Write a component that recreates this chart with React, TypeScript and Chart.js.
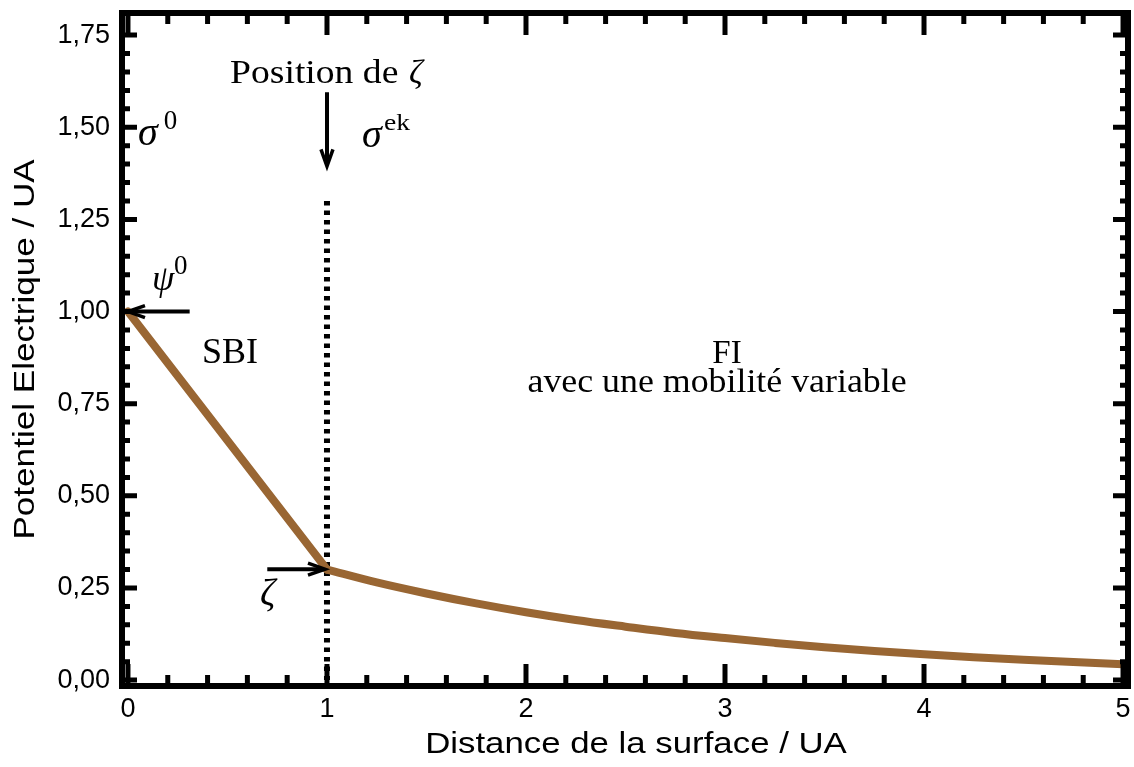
import React, { useEffect, useRef } from 'react';
import { Chart, registerables } from 'chart.js';

Chart.register(...registerables);

// ---- Axis ticks ----
const xTickValues = [0, 1, 2, 3, 4, 5];
const xTickLabels = ['0', '1', '2', '3', '4', '5'];
const yTickValues = [0, 0.25, 0.5, 0.75, 1.0, 1.25, 1.5, 1.75];
const yTickLabels = ['0,00', '0,25', '0,50', '0,75', '1,00', '1,25', '1,50', '1,75'];
const xMinorStep = 0.2;
const yMinorStep = 0.05;

// ---- Series ----
// SBI segment (from the surface to the position of zeta)
const sbiX = [0, 1];
const sbiY = [1.0, 0.3];
// FI decay (diffuse layer)
const fiX = [1, 1.25, 1.5, 1.75, 2, 2.25, 2.5, 2.75, 3, 3.25, 3.5, 3.75, 4, 4.25, 4.5, 4.75, 5];
const fiY = [0.3, 0.265, 0.235, 0.208, 0.184, 0.163, 0.145, 0.128, 0.114, 0.101, 0.089, 0.079, 0.07, 0.062, 0.055, 0.049, 0.043];
// Position of zeta (dotted vertical)
const zetaLineX = [1, 1];
const zetaLineY = [1.3, 0];

// ---- Annotations (data coordinates) ----
const SERIF = "'Liberation Serif', 'Times New Roman', serif";
const SANS = "'Liberation Sans', Arial, Helvetica, sans-serif";

const textNotes = [
  { text: 'Position de', x: 0.513, y: 1.62, size: 33, italic: false, sx: 1.14, align: 'left' },
  { text: 'ζ', x: 1.412, y: 1.62, size: 34, italic: true, sx: 1, align: 'left' },
  { text: 'σ', x: 0.05, y: 1.451, size: 40, italic: true, sx: 1, align: 'left' },
  { text: '0', x: 0.18, y: 1.495, size: 27, italic: false, sx: 1, align: 'left' },
  { text: 'σ', x: 1.176, y: 1.446, size: 40, italic: true, sx: 1, align: 'left' },
  { text: 'ek', x: 1.286, y: 1.492, size: 24, italic: false, sx: 1.15, align: 'left' },
  { text: 'ψ', x: 0.121, y: 1.058, size: 36, italic: true, sx: 1, align: 'left' },
  { text: '0', x: 0.231, y: 1.101, size: 27, italic: false, sx: 1, align: 'left' },
  { text: 'SBI', x: 0.372, y: 0.86, size: 36, italic: false, sx: 1, align: 'left' },
  { text: 'FI', x: 3.01, y: 0.86, size: 33, italic: false, sx: 1, align: 'center' },
  { text: 'avec une mobilité variable', x: 2.96, y: 0.781, size: 33, italic: false, sx: 1.086, align: 'center' },
  { text: 'ζ', x: 0.663, y: 0.203, size: 38, italic: true, sx: 1, align: 'left' },
];

const arrowNotes = [
  { x1: 1, y1: 1.595, x2: 1, y2: 1.394 },
  { x1: 0.31, y1: 1.0, x2: 0.0, y2: 1.0 },
  { x1: 0.7, y1: 0.301, x2: 0.99, y2: 0.301 },
];

const LINE_COLOR = '#996633';

const framePlugin = {
  id: 'framePlugin',
  beforeDraw(chart: any) {
    const patch = (id: string, method: string, tf: (c: CanvasRenderingContext2D) => void) => {
      const s: any = chart.scales[id];
      const key = '__tf_' + method;
      if (s && !s[key]) {
        const orig = s[method].bind(s);
        s[method] = (...args: any[]) => {
          const c = s.ctx;
          c.save();
          tf(c);
          orig(...args);
          c.restore();
        };
        s[key] = true;
      }
    };
    // the reference lettering is drawn wide: stretch the axis titles along their reading direction
    patch('x', 'drawTitle', (c) => {
      c.translate(570, 0);
      c.scale(1.2, 1);
      c.translate(-570, 0);
    });
    patch('y', 'drawTitle', (c) => {
      c.translate(0, 350);
      c.scale(1, 1.21);
      c.translate(0, -350);
    });
  },
  afterDatasetsDraw(chart: any) {
    const ctx = chart.ctx;
    const { left, right, top, bottom } = chart.chartArea;
    const xs = chart.scales.x;
    const ys = chart.scales.y;
    ctx.save();
    ctx.strokeStyle = '#000';
    ctx.fillStyle = '#000';
    // ticks
    ctx.lineWidth = 5;
    ctx.lineCap = 'butt';
    const near = (a: number, b: number) => Math.abs(a - b) < 1e-6;
    const xMaj = xTickValues;
    const yMaj = yTickValues;
    const nX = Math.round((xMaj[xMaj.length - 1] - xMaj[0]) / xMinorStep);
    for (let i = 0; i <= nX; i++) {
      const v = xMaj[0] + i * xMinorStep;
      const isMaj = xMaj.some((m) => near(m, v));
      const len = isMaj ? 22 : 11;
      const px = xs.getPixelForValue(v);
      ctx.beginPath();
      ctx.moveTo(px, bottom);
      ctx.lineTo(px, bottom - len);
      ctx.moveTo(px, top);
      ctx.lineTo(px, top + len);
      ctx.stroke();
    }
    const nY = Math.round((yMaj[yMaj.length - 1] - yMaj[0]) / yMinorStep);
    for (let i = 0; i <= nY; i++) {
      const v = yMaj[0] + i * yMinorStep;
      const isMaj = yMaj.some((m) => near(m, v));
      const len = isMaj ? 15 : 8;
      const py = ys.getPixelForValue(v);
      ctx.beginPath();
      ctx.moveTo(left, py);
      ctx.lineTo(left + len, py);
      ctx.moveTo(right, py);
      ctx.lineTo(right - len, py);
      ctx.stroke();
    }
    // frame
    ctx.lineWidth = 6;
    ctx.strokeRect(left, top, right - left, bottom - top);

    // arrows
    for (const a of arrowNotes) {
      const x1 = xs.getPixelForValue(a.x1);
      const y1 = ys.getPixelForValue(a.y1);
      const x2 = xs.getPixelForValue(a.x2);
      const y2 = ys.getPixelForValue(a.y2);
      const ang = Math.atan2(y2 - y1, x2 - x1);
      ctx.lineWidth = 4;
      ctx.beginPath();
      ctx.moveTo(x1, y1);
      ctx.lineTo(x2 - Math.cos(ang) * 2, y2 - Math.sin(ang) * 2);
      ctx.stroke();
      const hl = 17;
      const hw = 6;
      const bx = x2 - Math.cos(ang) * hl;
      const by = y2 - Math.sin(ang) * hl;
      const nx = -Math.sin(ang);
      const ny = Math.cos(ang);
      ctx.lineWidth = 3.5;
      ctx.lineJoin = 'miter';
      ctx.beginPath();
      ctx.moveTo(bx + nx * hw, by + ny * hw);
      ctx.lineTo(x2, y2);
      ctx.lineTo(bx - nx * hw, by - ny * hw);
      ctx.stroke();
    }

    // texts
    for (const t of textNotes) {
      ctx.save();
      ctx.font = `${t.italic ? 'italic ' : ''}${t.size}px ${SERIF}`;
      ctx.textAlign = t.align as CanvasTextAlign;
      ctx.textBaseline = 'alphabetic';
      ctx.fillStyle = '#000';
      ctx.translate(xs.getPixelForValue(t.x), ys.getPixelForValue(t.y));
      ctx.scale(t.sx, 1);
      ctx.fillText(t.text, 0, 0);
      ctx.restore();
    }
    ctx.restore();
  },
};

export default function App() {
  const canvasRef = useRef<HTMLCanvasElement | null>(null);

  useEffect(() => {
    const canvas = canvasRef.current;
    if (!canvas) return;
    const chart = new Chart(canvas, {
      type: 'line',
      data: {
        datasets: [
          {
            label: 'SBI',
            data: sbiX.map((x, i) => ({ x, y: sbiY[i] })),
            borderColor: LINE_COLOR,
            borderWidth: 8,
            pointRadius: 0,
            borderCapStyle: 'round',
            tension: 0,
          },
          {
            label: 'FI',
            data: fiX.map((x, i) => ({ x, y: fiY[i] })),
            borderColor: LINE_COLOR,
            borderWidth: 8,
            pointRadius: 0,
            borderCapStyle: 'round',
            borderJoinStyle: 'round',
            cubicInterpolationMode: 'monotone',
          },
          {
            label: 'Position de ζ',
            data: zetaLineX.map((x, i) => ({ x, y: zetaLineY[i] })),
            borderColor: '#000',
            borderWidth: 6,
            borderDash: [4.5, 5],
            pointRadius: 0,
            tension: 0,
          },
        ],
      },
      options: {
        responsive: false,
        animation: false,
        devicePixelRatio: 1,
        layout: { padding: { left: 0, top: 13, right: 6, bottom: 0 } },
        plugins: {
          legend: { display: false },
          tooltip: { enabled: false },
          title: { display: false },
        },
        scales: {
          x: {
            type: 'linear',
            min: -0.03,
            max: 5.025,
            grid: { display: false, drawTicks: false },
            border: { display: false },
            afterBuildTicks: (s: any) => {
              s.ticks = xTickValues.map((v) => ({ value: v }));
            },
            afterFit: (s: any) => {
              s.height = 81;
              s.paddingLeft = 0;
              s.paddingRight = 0;
            },
            ticks: {
              autoSkip: false,
              maxRotation: 0,
              padding: 7,
              color: '#000',
              font: { family: SANS, size: 27 },
              callback: (_v: any, i: number) => xTickLabels[i],
            },
            title: {
              display: true,
              text: 'Distance de la surface / UA',
              color: '#000',
              font: { family: SANS, size: 29 },
              padding: { top: 0, bottom: 5 },
            },
          },
          y: {
            type: 'linear',
            min: -0.016,
            max: 1.81,
            grid: { display: false, drawTicks: false },
            border: { display: false },
            afterBuildTicks: (s: any) => {
              s.ticks = yTickValues.map((v) => ({ value: v }));
            },
            afterFit: (s: any) => {
              s.width = 122;
              s.paddingTop = 0;
              s.paddingBottom = 0;
            },
            ticks: {
              autoSkip: false,
              padding: 12,
              color: '#000',
              font: { family: SANS, size: 27 },
              callback: (_v: any, i: number) => yTickLabels[i],
            },
            title: {
              display: true,
              text: 'Potentiel Electrique / UA',
              color: '#000',
              font: { family: SANS, size: 29 },
              padding: { top: 9, bottom: 0 },
            },
          },
        },
      },
      plugins: [framePlugin],
    } as any);
    return () => chart.destroy();
  }, []);

  return (
    <div style={{ position: 'fixed', left: 0, top: 0, width: 1134, height: 767, background: '#fff' }}>
      <canvas ref={canvasRef} width={1134} height={767} style={{ display: 'block', width: 1134, height: 767 }} />
    </div>
  );
}
